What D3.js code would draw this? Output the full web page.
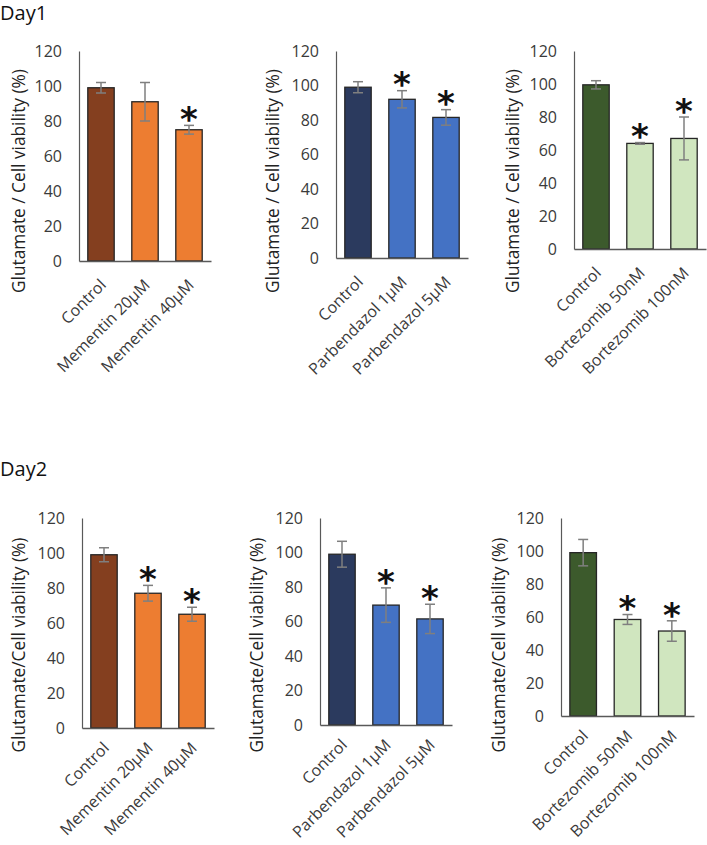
<!DOCTYPE html>
<html>
<head>
<meta charset="utf-8">
<script src="https://cdn.jsdelivr.net/npm/d3@7"></script>
<style>
  body { margin: 0; background: #fff; }
  text { font-family: "Open Sans", sans-serif; }
</style>
</head>
<body>
<script>
// categories per drug series
var memCats = ["Control", "Mementin 20µM", "Mementin 40µM"];
var parbCats = ["Control", "Parbendazol 1µM", "Parbendazol 5µM"];
var bortCats = ["Control", "Bortezomib 50nM", "Bortezomib 100nM"];

// Day1 means, errors and significance
var day1Mem = [99, 91, 75];
var day1MemErr = [3, 11, 2.5];
var day1MemSig = [false, false, true];
var day1Parb = [99, 92, 81.5];
var day1ParbErr = [3.2, 5, 4.5];
var day1ParbSig = [false, true, true];
var day1Bort = [99.5, 64, 67];
var day1BortErr = [2.5, 0.5, 13];
var day1BortSig = [false, true, true];

// Day2
var day2Mem = [99, 77, 65];
var day2MemErr = [4, 4.5, 4];
var day2MemSig = [false, true, true];
var day2Parb = [99, 69.5, 61.5];
var day2ParbErr = [7.5, 10, 8.5];
var day2ParbSig = [false, true, true];
var day2Bort = [99, 58.5, 51.5];
var day2BortErr = [8, 3, 6.2];
var day2BortSig = [false, true, true];

var yTicks = [0, 20, 40, 60, 80, 100, 120];
var dayTitles = ["Day1", "Day2"];
var yTitles = ["Glutamate / Cell viability (%)", "Glutamate/Cell viability (%)"];

// colours: control, treatment
var memColors = ["#843f1f", "#ed7d31"];
var parbColors = ["#2b3a5e", "#4472c4"];
var bortColors = ["#3c5a2c", "#d0e6bf"];

var svg = d3.select("body").append("svg")
  .attr("width", 707)
  .attr("height", 845);

// panel layout (pixels)
var panels = [
  {cats: memCats,  vals: day1Mem,  errs: day1MemErr,  sig: day1MemSig,  colors: memColors,  row: 0, left: 79,  right: 211, y0: 261, yTop: 51, titleX: 18},
  {cats: parbCats, vals: day1Parb, errs: day1ParbErr, sig: day1ParbSig, colors: parbColors, row: 0, left: 336, right: 468, y0: 258, yTop: 51, titleX: 272},
  {cats: bortCats, vals: day1Bort, errs: day1BortErr, sig: day1BortSig, colors: bortColors, row: 0, left: 574, right: 706, y0: 249, yTop: 51, titleX: 512},
  {cats: memCats,  vals: day2Mem,  errs: day2MemErr,  sig: day2MemSig,  colors: memColors,  row: 1, left: 82,  right: 214, y0: 728, yTop: 518, titleX: 18},
  {cats: parbCats, vals: day2Parb, errs: day2ParbErr, sig: day2ParbSig, colors: parbColors, row: 1, left: 320, right: 452, y0: 725, yTop: 518, titleX: 256},
  {cats: bortCats, vals: day2Bort, errs: day2BortErr, sig: day2BortSig, colors: bortColors, row: 1, left: 561, right: 694, y0: 716, yTop: 518, titleX: 498}
];
var titleCenterY = [181, 645];
var labelShift = ["translate(6, 25) rotate(-45)", "translate(6, 21) rotate(-45)"];

// day headings
svg.append("text").attr("x", 0).attr("y", 20).style("font-size", "20px").attr("fill", "#111").text(dayTitles[0]);
svg.append("text").attr("x", 0).attr("y", 476).style("font-size", "20px").attr("fill", "#111").text(dayTitles[1]);

panels.forEach(function(p) {
  var data = p.cats.map(function(c, i) {
    return {cat: c, val: p.vals[i], err: p.errs[i], sig: p.sig[i], i: i};
  });

  var x = d3.scaleBand()
    .domain(p.cats)
    .range([p.left, p.right])
    .paddingInner(0.4)
    .paddingOuter(0.2);

  var y = d3.scaleLinear()
    .domain([0, 120])
    .range([p.y0, p.yTop]);

  var g = svg.append("g");

  // y axis
  var yAxis = g.append("g")
    .attr("transform", `translate(${p.left}, 0)`)
    .call(d3.axisLeft(y).tickValues(yTicks).tickSize(0).tickPadding(17));
  yAxis.select(".domain").attr("stroke", "#595959").attr("stroke-width", 1.2);
  yAxis.selectAll("text")
    .style("font-size", "16px")
    .style("font-family", "'Open Sans', sans-serif")
    .attr("fill", "#3a3a3a");

  // bars
  g.selectAll("rect.bar")
    .data(data)
    .enter()
    .append("rect")
    .attr("class", "bar")
    .attr("x", d => x(d.cat))
    .attr("y", d => y(d.val))
    .attr("width", x.bandwidth())
    .attr("height", d => y(0) - y(d.val))
    .attr("fill", d => d.i === 0 ? p.colors[0] : p.colors[1])
    .attr("stroke", "#262626")
    .attr("stroke-width", 1.3);

  // x axis
  var xAxis = g.append("g")
    .attr("transform", `translate(0, ${p.y0})`)
    .call(d3.axisBottom(x).tickSize(0).tickSizeOuter(0).tickPadding(0));
  xAxis.select(".domain").attr("stroke", "#595959").attr("stroke-width", 1.6);
  xAxis.selectAll("text")
    .style("font-size", "16px")
    .style("font-family", "'Open Sans', sans-serif")
    .attr("fill", "#3a3a3a")
    .attr("text-anchor", "end")
    .attr("dy", 0)
    .attr("transform", labelShift[p.row]);

  // error bars
  var err = g.selectAll("g.err")
    .data(data)
    .enter()
    .append("g")
    .attr("class", "err")
    .attr("stroke", "#7f7f7f")
    .attr("stroke-width", 1.5);
  err.append("line")
    .attr("x1", d => x(d.cat) + x.bandwidth() / 2)
    .attr("x2", d => x(d.cat) + x.bandwidth() / 2)
    .attr("y1", d => y(d.val - d.err))
    .attr("y2", d => y(d.val + d.err));
  err.append("line")
    .attr("x1", d => x(d.cat) + x.bandwidth() / 2 - 5)
    .attr("x2", d => x(d.cat) + x.bandwidth() / 2 + 5)
    .attr("y1", d => y(d.val + d.err))
    .attr("y2", d => y(d.val + d.err));
  err.append("line")
    .attr("x1", d => x(d.cat) + x.bandwidth() / 2 - 5)
    .attr("x2", d => x(d.cat) + x.bandwidth() / 2 + 5)
    .attr("y1", d => y(d.val - d.err))
    .attr("y2", d => y(d.val - d.err));

  // significance stars
  g.selectAll("text.star")
    .data(data.filter(d => d.sig))
    .enter()
    .append("text")
    .attr("class", "star")
    .attr("x", d => x(d.cat) + x.bandwidth() / 2)
    .attr("y", d => y(d.val + d.err) - 14 + 0.58 * 34)
    .attr("text-anchor", "middle")
    .style("font-family", "'DejaVu Sans', sans-serif")
    .style("font-weight", "bold")
    .style("font-size", "34px")
    .attr("fill", "#111")
    .text("*");

  // y title
  g.append("text")
    .attr("transform", `translate(${p.titleX}, ${titleCenterY[p.row]}) rotate(-90)`)
    .attr("text-anchor", "middle")
    .attr("dominant-baseline", "central")
    .style("font-size", "17.3px")
    .attr("fill", "#222")
    .text(yTitles[p.row]);
});
</script>
</body>
</html>
